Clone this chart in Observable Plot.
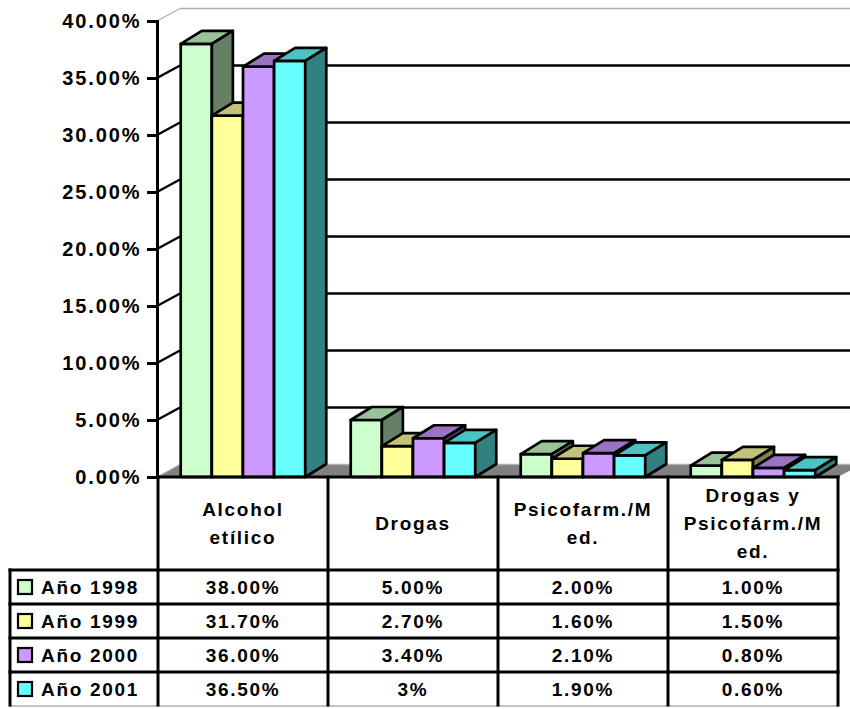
<!DOCTYPE html>
<html><head><meta charset="utf-8">
<script src="https://cdn.jsdelivr.net/npm/d3@7"></script>
<script src="https://cdn.jsdelivr.net/npm/@observablehq/plot@0.6"></script>
<style>body{margin:0;background:#fff}</style>
</head><body><div id="chart"></div>
<script>
// ---- data ----
const categories = ["Alcohol etílico", "Drogas", "Psicofarm./Med.", "Drogas y Psicofárm./Med."];
const headerLines = [["Alcohol", "etílico"], ["Drogas"], ["Psicofarm./M", "ed."], ["Drogas y", "Psicofárm./M", "ed."]];
const years = ["Año 1998", "Año 1999", "Año 2000", "Año 2001"];
const values1998 = [0.38, 0.05, 0.02, 0.01];
const values1999 = [0.317, 0.027, 0.016, 0.015];
const values2000 = [0.36, 0.034, 0.021, 0.008];
const values2001 = [0.365, 0.03, 0.019, 0.006];
const labels1998 = ["38.00%", "5.00%", "2.00%", "1.00%"];
const labels1999 = ["31.70%", "2.70%", "1.60%", "1.50%"];
const labels2000 = ["36.00%", "3.40%", "2.10%", "0.80%"];
const labels2001 = ["36.50%", "3%", "1.90%", "0.60%"];
const yTicks = [0, 0.05, 0.10, 0.15, 0.20, 0.25, 0.30, 0.35, 0.40];
const frontColors = ["#CCFFCC", "#FFFF99", "#CC99FF", "#66FFFF"];
const topColors = ["#99C299", "#C2C278", "#9A73C2", "#4DC2C2"];
const sideColors = ["#668066", "#80804D", "#664D80", "#338080"];

const series = [
  {year: years[0], values: values1998, labels: labels1998},
  {year: years[1], values: values1999, labels: labels1999},
  {year: years[2], values: values2000, labels: labels2000},
  {year: years[3], values: values2001, labels: labels2001}
];

const FONT = "'Liberation Sans', Arial, sans-serif";
const depth = {dx: 21, dy: -13};
const wall = {dx: 23, dy: -12.5};

function pts(arr) { return arr.map(p => p.join(",")).join(" "); }
function bandInfo(scales, dims) {
  const x = scales.x;
  const n = categories.length;
  const inner = dims.width - dims.marginLeft - dims.marginRight;
  const bw = x.bandwidth ? x.bandwidth() : inner / n;
  return {x, bw};
}

function backdrop(index, scales, values, dims) {
  const y = scales.y;
  const x0 = dims.marginLeft, x1 = dims.width - dims.marginRight;
  const g = d3.create("svg:g");
  const y0 = y(0);
  g.append("polygon")
    .attr("points", pts([[x0, y0], [x1, y0], [x1 + wall.dx, y0 + wall.dy], [x0 + wall.dx, y0 + wall.dy]]))
    .attr("fill", "#808080");
  yTicks.forEach((t, i) => {
    const yy = y(t);
    const edge = i === 0 || i === yTicks.length - 1;
    const stroke = edge ? "#b0b0b0" : "#000";
    const sw = edge ? 1.3 : 2.4;
    g.append("line").attr("x1", x0).attr("y1", yy).attr("x2", x0 + wall.dx).attr("y2", yy + wall.dy)
      .attr("stroke", stroke).attr("stroke-width", sw);
    g.append("line").attr("x1", x0 + wall.dx).attr("y1", yy + wall.dy).attr("x2", x1 + wall.dx).attr("y2", yy + wall.dy)
      .attr("stroke", stroke).attr("stroke-width", sw);
  });
  return g.node();
}

function bars3d(index, scales, values, dims) {
  const {x, bw} = bandInfo(scales, dims);
  const y = scales.y;
  const g = d3.create("svg:g").attr("stroke", "#000").attr("stroke-width", 2.7).attr("stroke-linejoin", "round");
  categories.forEach((c, ci) => {
    const inner = d3.scaleBand().domain(years).range([x(c), x(c) + bw]).paddingInner(0).paddingOuter(0.73);
    series.forEach((s, si) => {
      const v = s.values[ci];
      const a = inner(s.year), b = a + inner.bandwidth();
      const t = y(v), z = y(0);
      g.append("polygon").attr("points", pts([[a, t], [b, t], [b, z], [a, z]])).attr("fill", frontColors[si]);
      g.append("polygon").attr("points", pts([[a, t], [b, t], [b + depth.dx, t + depth.dy], [a + depth.dx, t + depth.dy]])).attr("fill", topColors[si]);
      g.append("polygon").attr("points", pts([[b, t], [b + depth.dx, t + depth.dy], [b + depth.dx, z + depth.dy], [b, z]])).attr("fill", sideColors[si]);
    });
  });
  return g.node();
}

function dataTable(index, scales, values, dims) {
  const {x, bw} = bandInfo(scales, dims);
  const top = scales.y(0);
  const headerH = 93, rowH = 34, legendLeft = 10;
  const edges = categories.map(c => x(c)).concat([x(categories[categories.length - 1]) + bw]);
  const right = edges[edges.length - 1];
  const bottom = top + headerH + rowH * series.length;
  const g = d3.create("svg:g").attr("font-family", FONT).attr("font-weight", "bold").attr("font-size", 19)
    .attr("letter-spacing", "1.7px").attr("text-anchor", "start");
  const L = (x1, y1, x2, y2, stroke = "#000", sw = 3) =>
    g.append("line").attr("x1", x1).attr("y1", y1).attr("x2", x2).attr("y2", y2).attr("stroke", stroke).attr("stroke-width", sw).attr("stroke-linecap", "square");
  L(edges[0], top, right, top);
  for (let r = 0; r < series.length; r++) L(legendLeft, top + headerH + r * rowH, right, top + headerH + r * rowH);
  L(legendLeft, bottom, right, bottom, "#b0b0b0", 1.5);
  edges.forEach(e => L(e, top, e, bottom - 1));
  L(legendLeft, top + headerH, legendLeft, bottom - 1);
  categories.forEach((c, ci) => {
    const cx = x(c) + bw / 2;
    const lines = headerLines[ci];
    const cy = top + headerH / 2;
    lines.forEach((ln, li) => {
      g.append("text").attr("x", cx).attr("y", cy + (li - (lines.length - 1) / 2) * 28)
        .attr("dy", "0.36em").attr("text-anchor", "middle").attr("fill", "#000").text(ln);
    });
  });
  series.forEach((s, si) => {
    const cy = top + headerH + si * rowH + rowH / 2;
    g.append("rect").attr("x", legendLeft + 8).attr("y", cy - 7).attr("width", 14).attr("height", 14)
      .attr("fill", frontColors[si]).attr("stroke", "#000").attr("stroke-width", 2.2);
    g.append("text").attr("x", legendLeft + 31).attr("y", cy).attr("dy", "0.36em").attr("text-anchor", "start")
      .attr("fill", "#000").text(s.year);
    categories.forEach((c, ci) => {
      g.append("text").attr("x", x(c) + bw / 2).attr("y", cy).attr("dy", "0.36em").attr("text-anchor", "middle")
        .attr("fill", "#000").text(s.labels[ci]);
    });
  });
  return g.node();
}

const plot = Plot.plot({
  width: 850,
  height: 709,
  marginTop: 21,
  marginBottom: 232,
  marginLeft: 157,
  marginRight: 12,
  style: {fontFamily: FONT, fontSize: "20px", fontWeight: "bold", background: "#fff", color: "#000", letterSpacing: "1.9px"},
  x: {type: "band", domain: categories, padding: 0, axis: null},
  y: {domain: [0, 0.4], axis: null},
  marks: [
    backdrop,
    bars3d,
    Plot.axisY(yTicks, {
      tickSize: 10,
      tickPadding: 6,
      strokeWidth: 3,
      fontSize: 20,
      fontWeight: "bold",
      tickFormat: d => (d * 100).toFixed(2) + "%"
    }),
    Plot.frame({anchor: "left", stroke: "#000", strokeWidth: 3}),
    dataTable
  ]
});
document.getElementById("chart").appendChild(plot);
</script>
</body></html>
